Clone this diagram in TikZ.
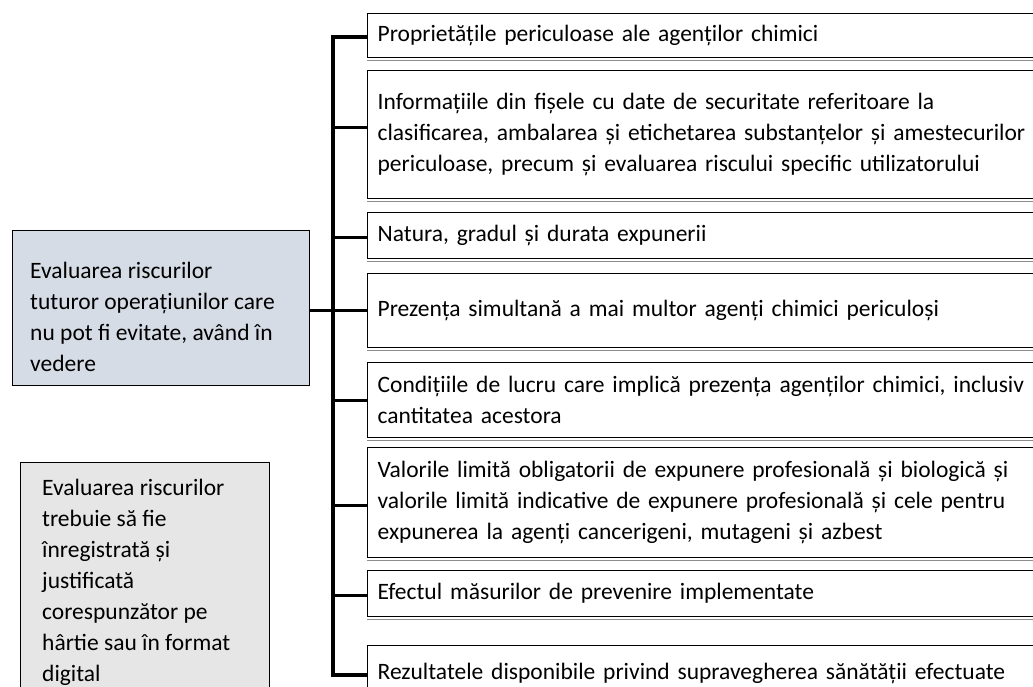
\documentclass[tikz,border=0pt]{standalone}
\usepackage{fontspec}
\setmainfont{Carlito}
\usetikzlibrary{calc}
\definecolor{mainfill}{HTML}{D6DCE5}
\definecolor{notefill}{HTML}{E7E6E6}
\newcommand{\fs}{\fontsize{23.5}{31}\selectfont}
\begin{document}
\begin{tikzpicture}[x=1pt,y=-1pt,
  rbox/.style={draw, line width=1.3pt, rectangle, anchor=north west,
    text width=700pt, inner xsep=10pt, inner ysep=0pt,
    align=left, font=\fs},
  lbox/.style={draw, line width=1.3pt, rectangle, anchor=north west, inner sep=0pt},
  txt/.style={font=\fs, align=left, inner sep=0pt},
  branch/.style={line width=3pt},
  trunk/.style={line width=4pt, line join=miter},
  shade/.style={draw=black!45, line width=1pt}]
\useasboundingbox (0,0) rectangle (1033,686);
\clip (0,0) rectangle (1033,686);

% left boxes
\node[lbox, fill=mainfill, minimum width=297pt, minimum height=155pt] (main) at (12,230) {};
\node[txt, anchor=west] (maint) at (30,316.5) {Evaluarea riscurilor\\tuturor operațiunilor care\\nu pot fi evitate, având în\\vedere};
\node[lbox, fill=notefill, minimum width=249pt, minimum height=250pt] (note) at (20,462) {};
\node[txt, anchor=west] (notet) at (42,582) {Evaluarea riscurilor\\trebuie să fie\\înregistrată și\\justificată\\corespunzător pe\\hârtie sau în format\\digital};

% right boxes
\node[rbox, minimum height=44pt] (b1) at (367,13) {Proprietățile periculoase ale agenților chimici};
\node[rbox, minimum height=128pt] (b2) at (367,70) {Informațiile din fișele cu date de securitate referitoare la\\clasificarea, ambalarea și etichetarea substanțelor și amestecurilor\\periculoase, precum și evaluarea riscului specific utilizatorului};
\node[rbox, minimum height=46pt] (b3) at (367,212) {Natura, gradul și durata expunerii};
\node[rbox, minimum height=74pt] (b4) at (367,273) {Prezența simultană a mai multor agenți chimici periculoși};
\node[rbox, minimum height=75pt] (b5) at (367,362) {Condițiile de lucru care implică prezența agenților chimici, inclusiv\\cantitatea acestora};
\node[rbox, minimum height=110pt] (b6) at (367,447) {Valorile limită obligatorii de expunere profesională și biologică și\\valorile limită indicative de expunere profesională și cele pentru\\expunerea la agenți cancerigeni, mutageni și azbest};
\node[rbox, minimum height=46pt] (b7) at (367,570) {Efectul măsurilor de prevenire implementate};
\node[rbox, minimum height=56pt] (b8) at (367,645) {Rezultatele disponibile privind supravegherea sănătății efectuate};

% faint shadow lines under the right boxes
\foreach \b in {b1,b2,b3,b4,b5,b6,b7}
  \draw[shade] ([yshift=-2pt]\b.south west) -- ([yshift=-2pt]\b.south east);

% junctions on the trunk
\coordinate (j1) at (333,37);
\coordinate (j2) at (333,127);
\coordinate (j3) at (333,237);
\coordinate (j4) at (333,310);
\coordinate (j5) at (333,400);
\coordinate (j6) at (333,505);
\coordinate (j7) at (333,595);
\coordinate (j8) at (333,675);

\draw[trunk] (b1.west |- j1) -- (j1) -- (j8) -- (b8.west |- j8);
\draw[branch] (j2) -- (b2.west |- j2);
\draw[branch] (j3) -- (b3.west |- j3);
\draw[branch] (main.east |- j4) -- (b4.west |- j4);
\draw[branch] (j5) -- (b5.west |- j5);
\draw[branch] (j6) -- (b6.west |- j6);
\draw[branch] (j7) -- (b7.west |- j7);
\end{tikzpicture}
\end{document}
